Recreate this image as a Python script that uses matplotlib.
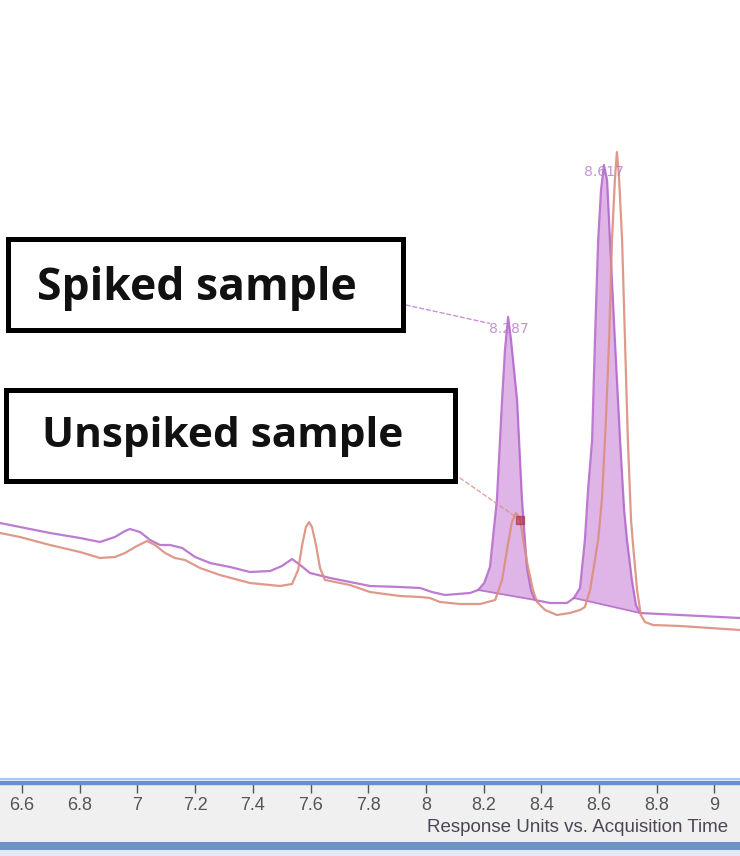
import numpy as np
import matplotlib
matplotlib.use('Agg')
import matplotlib.pyplot as plt
from matplotlib.patches import Rectangle

# chromatogram traces (time in min, response in arbitrary units)
spiked_time = [6.524, 6.593, 6.697, 6.801, 6.870, 6.922, 6.957, 6.974, 7.009, 7.044,
               7.078, 7.113, 7.155, 7.200, 7.252, 7.321, 7.390, 7.460, 7.501, 7.536,
               7.564, 7.598, 7.668, 7.737, 7.806, 7.910, 7.980, 8.021, 8.066, 8.153,
               8.181, 8.202, 8.222, 8.246, 8.264, 8.274, 8.285, 8.295, 8.316, 8.333,
               8.350, 8.364, 8.378, 8.430, 8.489, 8.513, 8.534, 8.551, 8.562, 8.576,
               8.586, 8.597, 8.607, 8.617, 8.628, 8.638, 8.655, 8.673, 8.687, 8.697,
               8.714, 8.728, 8.742, 8.811, 8.950, 9.089]
spiked_resp = [11.7, 11.3, 10.7, 10.2, 9.8, 10.3, 10.9, 11.1, 10.8, 10.0,
               9.5, 9.5, 9.2, 8.3, 7.7, 7.3, 6.8, 6.9, 7.4, 8.1,
               7.5, 6.7, 6.2, 5.8, 5.4, 5.3, 5.2, 4.8, 4.5, 4.7,
               5.0, 5.7, 7.3, 14.0, 24.0, 29.0, 32.3, 30.0, 24.0, 14.0,
               7.3, 5.0, 4.0, 3.7, 3.7, 4.2, 5.2, 10.0, 15.0, 20.0,
               30.0, 40.0, 45.0, 47.5, 46.0, 40.0, 30.0, 20.0, 13.0, 10.0,
               6.0, 3.5, 2.7, 2.6, 2.4, 2.2]

unspiked_time = [6.524, 6.593, 6.697, 6.801, 6.870, 6.922, 6.957, 6.992, 7.033, 7.061,
                 7.096, 7.130, 7.165, 7.217, 7.286, 7.390, 7.494, 7.536, 7.557, 7.571,
                 7.584, 7.595, 7.605, 7.619, 7.633, 7.650, 7.668, 7.737, 7.806, 7.910,
                 7.980, 8.014, 8.049, 8.118, 8.188, 8.240, 8.264, 8.281, 8.298, 8.312,
                 8.326, 8.340, 8.354, 8.371, 8.385, 8.413, 8.454, 8.499, 8.534, 8.551,
                 8.569, 8.586, 8.597, 8.610, 8.624, 8.635, 8.645, 8.655, 8.662, 8.669,
                 8.680, 8.690, 8.700, 8.711, 8.718, 8.732, 8.745, 8.759, 8.787, 8.881,
                 8.985, 9.089]
unspiked_resp = [10.7, 10.3, 9.5, 8.8, 8.2, 8.3, 8.7, 9.3, 9.9, 9.5,
                 8.7, 8.2, 8.0, 7.2, 6.5, 5.7, 5.4, 5.6, 7.0, 9.5,
                 11.3, 11.8, 11.3, 9.5, 7.2, 6.0, 5.9, 5.5, 4.8, 4.4,
                 4.3, 4.2, 3.8, 3.6, 3.6, 4.0, 6.0, 9.0, 11.8, 12.7,
                 12.2, 9.5, 7.3, 5.0, 3.8, 3.0, 2.5, 2.7, 3.0, 3.3,
                 5.0, 8.0, 10.0, 14.0, 22.0, 30.0, 40.0, 46.0, 48.8, 46.5,
                 40.0, 30.0, 20.0, 12.0, 9.5, 5.0, 2.5, 1.8, 1.5, 1.4,
                 1.2, 1.0]

# integrated peaks of the spiked run
peak_rt = [8.287, 8.617]
integ_start = [8.181, 8.513]
integ_end = [8.378, 8.742]
unspiked_mark_rt = 8.327

tick_vals = [6.6, 6.8, 7.0, 7.2, 7.4, 7.6, 7.8, 8.0, 8.2, 8.4, 8.6, 8.8, 9.0]
tick_labels = ['6.6', '6.8', '7', '7.2', '7.4', '7.6', '7.8', '8', '8.2', '8.4', '8.6', '8.8', '9']

PURPLE = '#b264c9'
SALMON = '#dc8e7e'
FILL = '#d9a8e2'

W, H = 740, 856


def fx(px):
    return px / W


def fy(py):
    return 1 - py / H


fig = plt.figure(figsize=(W / 100, H / 100), dpi=100)

# window chrome below the plot
fig.patches.append(Rectangle((0, fy(842)), 1, 59 / H, transform=fig.transFigure,
                             facecolor='#f0f0f0', edgecolor='none', zorder=-5))
fig.patches.append(Rectangle((0, fy(850)), 1, 8 / H, transform=fig.transFigure,
                             facecolor='#6f93c5', edgecolor='none', zorder=-5))
fig.patches.append(Rectangle((0, 0), 1, 6 / H, transform=fig.transFigure,
                             facecolor='#e2e9f3', edgecolor='none', zorder=-5))
fig.patches.append(Rectangle((0, fy(780)), 1, 2 / H, transform=fig.transFigure,
                             facecolor='#aec8ec', edgecolor='none', zorder=-5))

ax = fig.add_axes([0, fy(783), 1, 783 / H])
ax.set_xlim(6.5237, 9.0887)
ax.set_ylim(-14.3, 64)

t1 = np.array(spiked_time)
r1 = np.array(spiked_resp)
t2 = np.array(unspiked_time)
r2 = np.array(unspiked_resp)

for a, b in zip(integ_start, integ_end):
    m = (t1 >= a) & (t1 <= b)
    ya, yb = np.interp(a, t1, r1), np.interp(b, t1, r1)
    base = np.interp(t1[m], [a, b], [ya, yb])
    ax.fill_between(t1[m], base, r1[m], color=FILL, alpha=0.85, lw=0, zorder=1)
    ax.plot([a, b], [ya, yb], color=PURPLE, lw=1.3, alpha=0.8, zorder=2)

ax.plot(t1, r1, color=PURPLE, lw=1.6, alpha=0.85, zorder=3)
ax.plot(t2, r2, color=SALMON, lw=1.6, alpha=0.9, zorder=4)

for rt in peak_rt:
    apex = np.interp(rt, t1, r1)
    ax.text(rt, apex, f'{rt:.3f}', ha='center', va='top', fontsize=10,
            color='#b57acb', alpha=0.8, zorder=5)

mark_r = np.interp(unspiked_mark_rt, t2, r2)
ax.plot(unspiked_mark_rt, mark_r, marker='s', ms=6, color='#b03048', alpha=0.65,
        zorder=6, lw=0)

# leader lines from the boxes
ax.annotate('', xy=(peak_rt[0], np.interp(peak_rt[0], t1, r1) - 0.6),
            xytext=(fx(406), fy(305)), textcoords='figure fraction',
            arrowprops=dict(arrowstyle='-', color=PURPLE, lw=1, alpha=0.7,
                            linestyle=(0, (3, 2)), shrinkA=0, shrinkB=14))
ax.annotate('', xy=(unspiked_mark_rt, mark_r),
            xytext=(fx(460), fy(478)), textcoords='figure fraction',
            arrowprops=dict(arrowstyle='-', color=SALMON, lw=1, alpha=0.8,
                            linestyle=(0, (3, 2)), shrinkA=0, shrinkB=0))

for s in ['top', 'left', 'right']:
    ax.spines[s].set_visible(False)
ax.spines['bottom'].set_color('#6690d2')
ax.spines['bottom'].set_linewidth(3.2)
ax.set_yticks([])
ax.set_xticks(tick_vals)
ax.set_xticklabels(tick_labels, fontfamily='Liberation Sans')
ax.tick_params(axis='x', direction='out', length=7, width=1, color='#555555',
               pad=3, labelsize=13, labelcolor='#555555')
ax.patch.set_alpha(0)

fig.text(fx(427), fy(828), 'Response Units vs. Acquisition Time', ha='left', va='center',
         fontsize=13.5, color='#4d4555', fontfamily='Liberation Sans')

# label boxes
fig.patches.append(Rectangle((fx(7.5), fy(329.5)), fx(395), 91 / H, transform=fig.transFigure,
                             fill=False, edgecolor='black', lw=3.6, zorder=10))
fig.patches.append(Rectangle((fx(5.5), fy(480.5)), fx(449), 91 / H, transform=fig.transFigure,
                             fill=False, edgecolor='black', lw=3.6, zorder=10))
fig.text(fx(37), fy(300), 'Spiked sample', ha='left', va='baseline', fontsize=32,
         fontweight='bold', fontfamily='Open Sans', color='#111111')
fig.text(fx(42), fy(447), 'Unspiked sample', ha='left', va='baseline', fontsize=30.5,
         fontweight='bold', fontfamily='Open Sans', color='#111111')

fig.savefig('out.png', dpi=100)
